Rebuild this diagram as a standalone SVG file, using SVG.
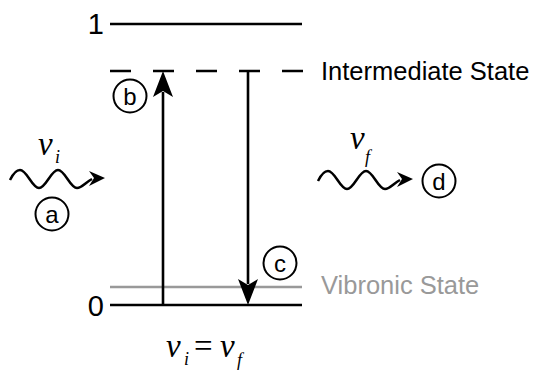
<svg xmlns="http://www.w3.org/2000/svg" width="540" height="372" viewBox="0 0 540 372">
<style>
.lvl{stroke:#000;stroke-width:2.6;fill:none}
.sans{font-family:"Liberation Sans",Arial,sans-serif}
.math{font-family:"Liberation Serif","Times New Roman",serif;font-style:italic}
.circ{fill:#fff;stroke:#000;stroke-width:2}
.wave{fill:none;stroke:#000;stroke-width:2.5}
</style>
<rect width="540" height="372" fill="#fff"/>
<g id="levels">
  <line class="lvl" x1="110" y1="24" x2="302" y2="24"/>
  <line class="lvl" x1="110" y1="71" x2="303" y2="71" stroke-dasharray="21 22"/>
  <line x1="110" y1="287" x2="302" y2="287" stroke="#999" stroke-width="2.5"/>
  <line class="lvl" x1="110" y1="305" x2="302" y2="305"/>
  <text class="sans" x="104" y="34" font-size="29" text-anchor="end">1</text>
  <text class="sans" x="104" y="316" font-size="29" text-anchor="end">0</text>
  <text class="sans" x="321" y="80" font-size="25.5">Intermediate State</text>
  <text class="sans" x="321" y="294" font-size="25.5" fill="#999">Vibronic State</text>
</g>
<g id="connectors">
  <line class="lvl" x1="163" y1="305" x2="163" y2="92"/>
  <polygon points="163,71 173,97 163,91 153,97" fill="#000"/>
  <line class="lvl" x1="248" y1="71" x2="248" y2="284"/>
  <polygon points="248,305 258,279 248,285 238,279" fill="#000"/>
  <path class="wave" d="M10,180 C13,174 16,170 20,170 C27,170 32,188 39,188 C46,188 51,170 58,170 C65,170 70,188 77,188 C82,188 86,182 92,179"/>
  <polygon points="105,178 89,171 94,178 89,186" fill="#000"/>
  <path class="wave" d="M318,181 C321,175 324,171 328,171 C335,171 340,189 347,189 C354,189 359,171 366,171 C373,171 378,189 385,189 C390,189 394,183 400,180"/>
  <polygon points="413,179 397,172 402,179 397,187" fill="#000"/>
</g>
<g id="b"><circle class="circ" cx="130" cy="96" r="16.5"/><text class="sans" x="130" y="104.5" font-size="24" text-anchor="middle">b</text></g>
<g id="c"><circle class="circ" cx="280" cy="263" r="16.5"/><text class="sans" x="280" y="271.5" font-size="24" text-anchor="middle">c</text></g>
<g id="a"><circle class="circ" cx="52" cy="214" r="16.5"/><text class="sans" x="52" y="222.5" font-size="24" text-anchor="middle">a</text></g>
<g id="d"><circle class="circ" cx="439" cy="181" r="16.5"/><text class="sans" x="439" y="189.5" font-size="24" text-anchor="middle">d</text></g>
<g id="vi"><text class="math" x="38" y="155" font-size="33">v</text><text class="math" x="55" y="163" font-size="18">i</text></g>
<g id="vf"><text class="math" x="350" y="149" font-size="33">v</text><text class="math" x="365" y="163" font-size="18">f</text></g>
<g id="eq">
  <text class="math" x="166" y="357" font-size="33">v</text><text class="math" x="184" y="365" font-size="18">i</text>
  <text x="194" y="357" font-size="33" font-family="'Liberation Serif',serif">=</text>
  <text class="math" x="220" y="357" font-size="33">v</text><text class="math" x="237" y="366" font-size="18">f</text>
</g>
</svg>
